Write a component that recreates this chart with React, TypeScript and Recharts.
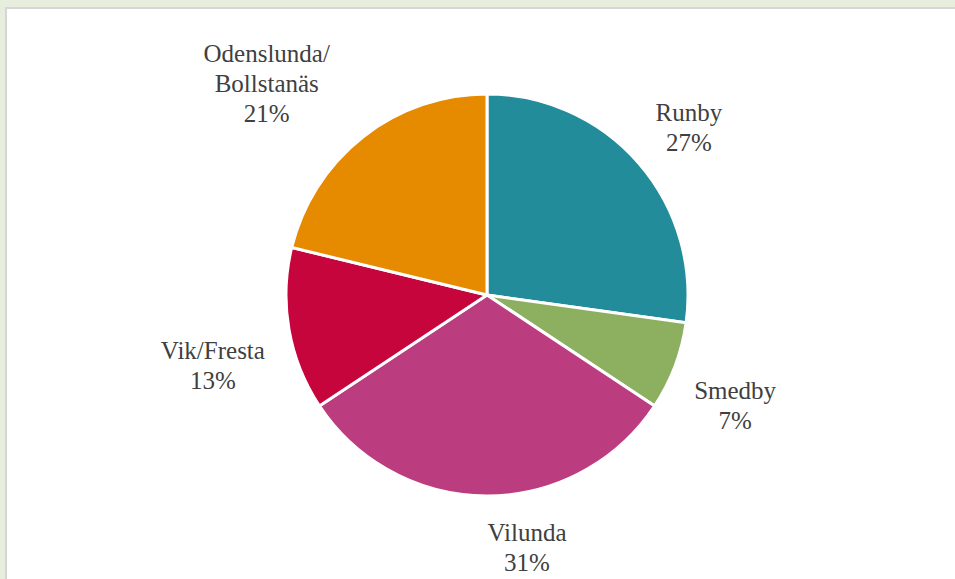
import { PieChart, Pie, Cell } from "recharts";

const districts = ["Runby", "Smedby", "Vilunda", "Vik/Fresta", "Odenslunda/Bollstanäs"];
const shares = [27.2, 7.1, 31.4, 13.1, 21.2];
const colors = ["#228C9A", "#8DB060", "#BC3C80", "#C5053C", "#E68B00"];

// label nudges (x, y) from a point 60px outside the rim
const labelNudge = [
  [5, 3],
  [4, 18],
  [40, -9],
  [-17, 25],
  [-59, -7],
];

const RADIAN = Math.PI / 180;

const data = districts.map((name, i) => ({ name, value: shares[i] }));

const renderLabel = (props: any) => {
  const { cx, cy, midAngle, outerRadius, percent, index, name } = props;
  const r = outerRadius + 60;
  const x = cx + r * Math.cos(-midAngle * RADIAN) + labelNudge[index][0];
  const y = cy + r * Math.sin(-midAngle * RADIAN) + labelNudge[index][1];
  const lines: string[] =
    name.length > 12 ? [name.slice(0, name.indexOf("/") + 1), name.slice(name.indexOf("/") + 1)] : [name];
  lines.push(`${Math.round(percent * 100)}%`);
  const lh = 30;
  const top = y - ((lines.length - 1) * lh) / 2;
  return (
    <text
      x={x}
      y={top}
      textAnchor="middle"
      dominantBaseline="central"
      fill="#404040"
      fontSize={25}
      fontFamily="'Liberation Serif', serif"
    >
      {lines.map((l, i) => (
        <tspan key={i} x={x} y={top + i * lh}>
          {l}
        </tspan>
      ))}
    </text>
  );
};

const App = () => {
  return (
    <div
      style={{
        position: "absolute",
        left: 0,
        top: 0,
        width: 955,
        height: 579,
        background: "#E7EEDD",
        overflow: "hidden",
      }}
    >
      <div
        style={{
          position: "absolute",
          left: 5,
          top: 7,
          width: 960,
          height: 580,
          background: "#fff",
          borderLeft: "2px solid #D6D6D6",
          borderTop: "2px solid #D6D6D6",
        }}
      />
      <div style={{ position: "absolute", left: 0, top: 0 }}>
        <PieChart width={955} height={579}>
          <Pie
            data={data}
            dataKey="value"
            nameKey="name"
            cx={482}
            cy={290}
            outerRadius={201}
            startAngle={90}
            endAngle={-270}
            stroke="#fff"
            strokeWidth={3}
            label={renderLabel}
            labelLine={false}
            isAnimationActive={false}
          >
            {data.map((d, i) => (
              <Cell key={d.name} fill={colors[i]} />
            ))}
          </Pie>
        </PieChart>
      </div>
    </div>
  );
};

export default App;
